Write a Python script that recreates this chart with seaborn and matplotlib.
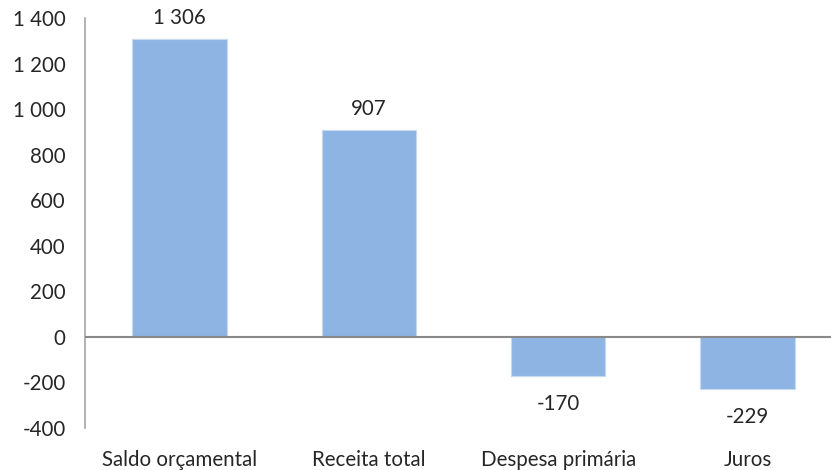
import matplotlib
matplotlib.use("Agg")
import matplotlib.pyplot as plt
import seaborn as sns
import pandas as pd

categories = ["Saldo orçamental", "Receita total", "Despesa primária", "Juros"]
values = [1306, 907, -170, -229]
value_labels = ["1 306", "907", "-170", "-229"]
y_ticks = [-400, -200, 0, 200, 400, 600, 800, 1000, 1200, 1400]
y_tick_labels = ["-400", "-200", "0", "200", "400", "600", "800", "1 000", "1 200", "1 400"]

sns.set_style("white")
plt.rcParams["font.family"] = ["Lato", "DejaVu Sans"]

df = pd.DataFrame({"cat": categories, "val": values})

fig = plt.figure(figsize=(8.31, 4.70), dpi=100)
# axes runs slightly past the right edge, as in the original
ax = fig.add_axes([0.1023, 0.0894, 0.911, 0.8723])

sns.barplot(data=df, x="cat", y="val", color="#8EB4E3", saturation=1,
            width=0.50, ax=ax, edgecolor="#C6D9F1", linewidth=0.8)

fs = 14.8
ax.set_ylim(-400, 1400)
ax.set_yticks(y_ticks)
ax.set_yticklabels(y_tick_labels, fontsize=fs)
ax.set_xlabel("")
ax.set_ylabel("")
ax.axhline(0, color="#898989", linewidth=1.5, zorder=3)

for s in ["top", "right", "bottom"]:
    ax.spines[s].set_visible(False)
ax.spines["left"].set_color("#A6A6A6")
ax.spines["left"].set_linewidth(1.2)
ax.tick_params(axis="y", length=0, pad=14)
ax.tick_params(axis="x", length=0, pad=16, labelsize=fs)

for i, (v, lab) in enumerate(zip(values, value_labels)):
    if v >= 0:
        ax.annotate(lab, (i, v), xytext=(0, 8), textcoords="offset points",
                    ha="center", va="bottom", fontsize=fs)
    else:
        ax.annotate(lab, (i, v), xytext=(0, -13), textcoords="offset points",
                    ha="center", va="top", fontsize=fs)

fig.savefig("out.png", dpi=100)
